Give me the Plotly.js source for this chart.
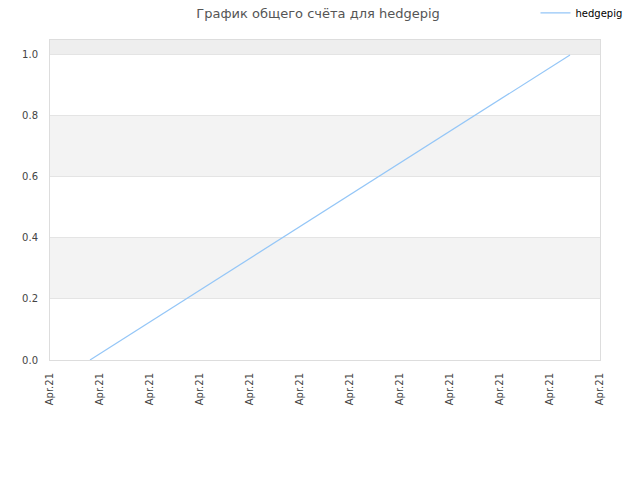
<!DOCTYPE html>
<html>
<head>
<meta charset="utf-8">
<script src="https://cdn.plot.ly/plotly-3.0.1.min.js"></script>
<style>body{margin:0;background:#fff}#chart{width:640px;height:480px}</style>
</head>
<body>
<div id="chart"></div>
<script>
var times = ['2021-04-21 10:00:48', '2021-04-21 10:10:24'];
var scores = [0, 1];
var seriesName = 'hedgepig';

var trace = {
  x: times,
  y: scores,
  name: seriesName,
  type: 'scatter',
  mode: 'lines',
  line: {color: '#94c6f7', width: 1.2}
};

// alternating background bands
var bands = [[0.2, 0.4, '#f3f3f3'], [0.6, 0.8, '#f3f3f3'], [1.0, 1.2, '#eeeeee']];
var shapes = bands.map(function (b) {
  return {type: 'rect', xref: 'paper', yref: 'y', x0: 0, x1: 1, y0: b[0], y1: b[1],
    fillcolor: b[2], line: {width: 0}, layer: 'below'};
});

var layout = {
  width: 640,
  height: 480,
  font: {family: 'DejaVu Sans, sans-serif', size: 10, color: '#444'},
  title: {text: 'График общего счёта для hedgepig', x: 0.497, xref: 'container', y: 0.973, yanchor: 'middle',
    font: {size: 13, color: '#555'}},
  showlegend: true,
  legend: {x: 1.05, xanchor: 'right', y: 1.085, yanchor: 'middle',
    bgcolor: 'rgba(0,0,0,0)', itemwidth: 30, font: {size: 10, color: '#000'}},
  margin: {l: 50, r: 40, t: 40, b: 120, autoexpand: false},
  plot_bgcolor: '#fff',
  xaxis: {
    type: 'date',
    range: ['2021-04-21 10:00:00', '2021-04-21 10:11:00'],
    tick0: '2021-04-21 10:00:00',
    dtick: 60000,
    tickformat: '%b.%d',
    tickangle: -90,
    showgrid: false,
    showline: true, mirror: true, linecolor: '#dddddd', linewidth: 1,
    zeroline: false,
    ticks: 'outside', ticklen: 8, tickcolor: 'rgba(0,0,0,0)'
  },
  yaxis: {
    range: [0, 1.049],
    dtick: 0.2,
    tickformat: '.1f',
    showgrid: true, gridcolor: '#e4e4e4',
    showline: true, mirror: true, linecolor: '#dddddd', linewidth: 1,
    zeroline: false,
    ticks: 'outside', ticklen: 9, tickcolor: 'rgba(0,0,0,0)'
  },
  shapes: shapes
};

Plotly.newPlot('chart', [trace], layout, {displayModeBar: false});
</script>
</body>
</html>
